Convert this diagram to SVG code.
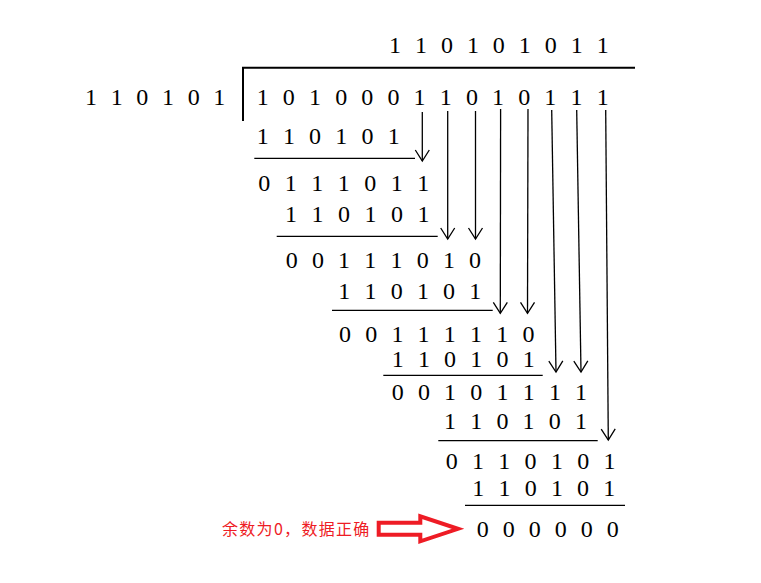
<svg xmlns="http://www.w3.org/2000/svg" width="761" height="583" viewBox="0 0 761 583">
<style>
.d{font-family:"Liberation Serif","Times New Roman",serif;font-size:24px;fill:#000;word-spacing:8.2px}
.ln{stroke:#000;stroke-width:1.3;fill:none}
.br{stroke:#000;stroke-width:2;fill:none}
.ar{stroke:#000;stroke-width:1.3;fill:none;marker-end:url(#v)}
.note{font-family:"Noto Sans CJK SC","Noto Sans",sans-serif;font-size:16px;fill:#ee1c25;letter-spacing:1.3px}
</style>
<defs>
<marker id="v" viewBox="-13 -9 15 18" refX="0" refY="0" markerWidth="15" markerHeight="18" markerUnits="userSpaceOnUse" orient="auto">
<path d="M-11,-7 L0,0 L-11,7" stroke="#000" stroke-width="1.3" fill="none"/>
</marker>
</defs>
<rect width="761" height="583" fill="#fff"/>
<g id="quotient"><text class="d" x="389" y="53" style="word-spacing:7.96px">1 1 0 1 0 1 0 1 1</text></g>
<g id="divisor"><text class="d" x="85" y="105" style="word-spacing:7.66px">1 1 0 1 0 1</text></g>
<g id="dividend"><text class="d" x="256.7" y="105" style="word-spacing:8.15px">1 0 1 0 0 0 1 1 0 1 0 1 1 1</text></g>
<g id="bracket"><path class="br" d="M243,121 V67.7 H635"/></g>
<g id="row1"><text class="d" x="256.7" y="144">1 1 0 1 0 1</text></g>
<g id="row2"><text class="d" x="258.3" y="190.5" style="word-spacing:8.5px">0 1 1 1 0 1 1</text></g>
<g id="row3"><text class="d" x="285" y="222" style="word-spacing:8.5px">1 1 0 1 0 1</text></g>
<g id="row4"><text class="d" x="285.7" y="267.5">0 0 1 1 1 0 1 0</text></g>
<g id="row5"><text class="d" x="338.3" y="298.5">1 1 0 1 0 1</text></g>
<g id="row6"><text class="d" x="339" y="341.5">0 0 1 1 1 1 1 0</text></g>
<g id="row7"><text class="d" x="391.7" y="366.5">1 1 0 1 0 1</text></g>
<g id="row8"><text class="d" x="391.7" y="400">0 0 1 0 1 1 1 1</text></g>
<g id="row9"><text class="d" x="444" y="429.3">1 1 0 1 0 1</text></g>
<g id="row10"><text class="d" x="445.7" y="469.3" style="word-spacing:8.3px">0 1 1 0 1 0 1</text></g>
<g id="row11"><text class="d" x="472.3" y="496">1 1 0 1 0 1</text></g>
<g id="row12"><text class="d" x="476.7" y="536.7" style="word-spacing:8px">0 0 0 0 0 0</text></g>
<g id="note"><text class="note" x="222" y="534.5">余数为0，数据正确</text></g>
<g id="bigArrow"><path d="M378.7,522.8 H420.3 V516.3 L458,528.8 L420.3,541.3 V534.8 H378.7 Z" fill="#fff" stroke="#ee1c25" stroke-width="4" stroke-linejoin="miter"/></g>
<g id="connectors">
<path class="ln" d="M254.3,158.3 H415"/>
<path class="ln" d="M276.7,236.3 H437.7"/>
<path class="ln" d="M332,310.3 H492.7"/>
<path class="ln" d="M383.3,375.3 H542.7"/>
<path class="ln" d="M438.3,440.7 H597.7"/>
<path class="ln" d="M465,505.3 H625"/>
<path class="ar" d="M422.3,112 L422.3,161"/>
<path class="ar" d="M447.7,111 L447.7,239"/>
<path class="ar" d="M475.5,111 L475.5,239"/>
<path class="ar" d="M500.6,109 L500.3,313.3"/>
<path class="ar" d="M528,109 L527.5,313.3"/>
<path class="ar" d="M551.7,110 L556,372"/>
<path class="ar" d="M576.7,110 L581,372"/>
<path class="ar" d="M605.7,110 L608.3,440"/>
</g>
</svg>
